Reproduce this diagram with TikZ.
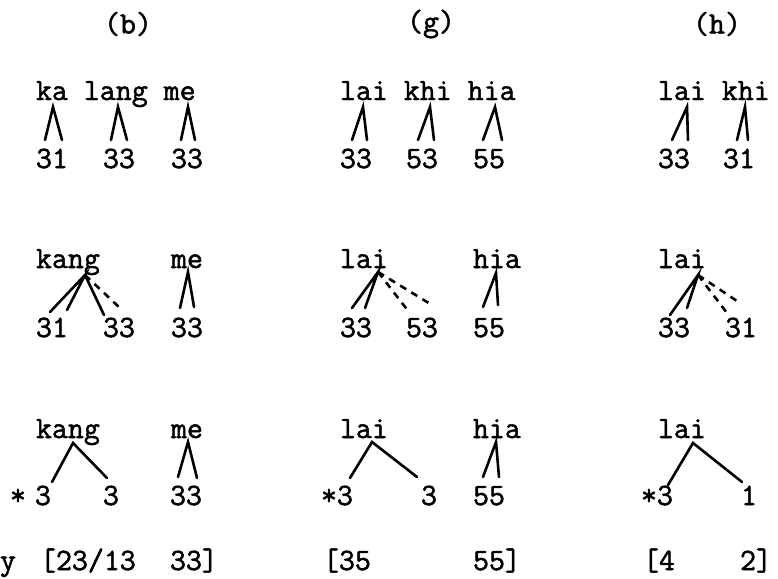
\documentclass[tikz,border=0pt]{standalone}
\usepackage{fontspec}
\newfontfamily\twfont{Latin Modern Mono}[FakeBold=1.6]
\newcommand\tyt{\fontsize{31}{31}\selectfont\twfont}
\tikzset{
  txt/.style={font=\tyt, anchor=base west, inner sep=0pt, outer sep=0pt},
  hdr/.style={font=\tyt, anchor=center, inner sep=0pt},
  leg/.style={line width=2.6pt, line cap=round},
  dleg/.style={line width=2.6pt, dash pattern=on 7pt off 6pt},
}
\newcommand\mylam[4]{%
  \coordinate (#1a) at (#2);
  \coordinate (#1l) at (#3);
  \coordinate (#1r) at (#4);
  \draw[leg] (#1l) -- (#1a) -- (#1r);}
\begin{document}
\begin{tikzpicture}[x=1pt,y=-1pt]
\useasboundingbox (0,0) rectangle (778,578);
% headers
\node[hdr] (hb) at (128,24) {(b)};
\node[hdr] (hg) at (431,24) {(g)};
\node[hdr] (hh) at (717,24) {(h)};
% ---- row 1
\node[txt] (b1w) at (36,100) {ka lang me};
\node[txt] (g1w) at (340,100) {lai khi hia};
\node[txt] (h1w) at (658,100) {lai khi};
\node[txt] (b1d1) at (36,168) {31};
\node[txt] (b1d2) at (103,168) {33};
\node[txt] (b1d3) at (171,168) {33};
\node[txt] (g1d1) at (340,168) {33};
\node[txt] (g1d2) at (406,168) {53};
\node[txt] (g1d3) at (473,168) {55};
\node[txt] (h1d1) at (658,168) {33};
\node[txt] (h1d2) at (723,168) {31};
\mylam{bA}{53,107}{45,140}{62,140}
\mylam{bB}{118,107}{111,140}{127,140}
\mylam{bC}{188,107}{181,140}{195,140}
\mylam{gA}{363,107}{352,140}{367,140}
\mylam{gB}{430,107}{418,140}{434,140}
\mylam{gC}{495,107}{483,140}{502,140}
\mylam{hA}{687,107}{672,140}{688,140}
\mylam{hB}{745,107}{737,140}{748,140}
% ---- row 2
\node[txt] (b2w1) at (36,268) {kang};
\node[txt] (b2w2) at (171,268) {me};
\node[txt] (g2w1) at (340,268) {lai};
\node[txt] (g2w2) at (473,268) {hia};
\node[txt] (h2w1) at (658,268) {lai};
\node[txt] (b2d1) at (36,337) {31};
\node[txt] (b2d2) at (103,337) {33};
\node[txt] (b2d3) at (171,337) {33};
\node[txt] (g2d1) at (340,337) {33};
\node[txt] (g2d2) at (406,337) {53};
\node[txt] (g2d3) at (473,337) {55};
\node[txt] (h2d1) at (658,337) {33};
\node[txt] (h2d2) at (725,337) {31};
% b row 2
\coordinate (b2a) at (85,275);
\coordinate (b2f1) at (50,312);
\coordinate (b2f2) at (67,310);
\coordinate (b2f3) at (104,315);
\coordinate (b2f4) at (120,308);
\draw[leg] (b2f1) -- (b2a) -- (b2f2);
\draw[leg] (b2a) -- (b2f3);
\draw[dleg] (b2a) -- (b2f4);
\mylam{bD}{188,272}{180,308}{194,307}
% g row 2
\coordinate (g2a) at (378,272);
\coordinate (g2f1) at (352,308);
\coordinate (g2f2) at (365,308);
\coordinate (g2f3) at (409,312);
\coordinate (g2f4) at (432,305);
\draw[leg] (g2f1) -- (g2a) -- (g2f2);
\draw[dleg] (g2a) -- (g2f3);
\draw[dleg] (g2a) -- (g2f4);
\mylam{gD}{496,273}{483,307}{498,305}
% h row 2
\coordinate (h2a) at (698,275);
\coordinate (h2f1) at (670,315);
\coordinate (h2f2) at (687,308);
\coordinate (h2f3) at (727,313);
\coordinate (h2f4) at (740,303);
\draw[leg] (h2f1) -- (h2a) -- (h2f2);
\draw[dleg] (h2a) -- (h2f3);
\draw[dleg] (h2a) -- (h2f4);
% ---- row 3
\node[txt] (b3w1) at (36,438) {kang};
\node[txt] (b3w2) at (171,438) {me};
\node[txt] (g3w1) at (340,438) {lai};
\node[txt] (g3w2) at (473,438) {hia};
\node[txt] (h3w1) at (658,438) {lai};
\node[txt] (b3s) at (10,505) {*};
\node[txt] (b3d1) at (35,505) {3};
\node[txt] (b3d2) at (103,505) {3};
\node[txt] (b3d3) at (170,505) {33};
\node[txt] (g3d1) at (321,505) {*3};
\node[txt] (g3d2) at (421,505) {3};
\node[txt] (g3d3) at (473,505) {55};
\node[txt] (h3d1) at (641,505) {*3};
\node[txt] (h3d2) at (741,505) {1};
\mylam{bE}{73,443}{52,482}{107,478}
\mylam{bF}{188,442}{178,477}{197,478}
\mylam{gE}{372,442}{350,478}{417,477}
\mylam{gF}{496,442}{483,477}{499,477}
\mylam{hE}{693,443}{668,485}{742,482}
% ---- bottom line
\node[txt] (by) at (0,570) {y};
\node[txt] (bb1) at (40,570) {[23/13};
\node[txt] (bb2) at (170,570) {33]};
\node[txt] (gb1) at (323,570) {[35};
\node[txt] (gb2) at (473,570) {55]};
\node[txt] (hb1) at (643,570) {[4};
\node[txt] (hb2) at (740,570) {2]};
\end{tikzpicture}
\end{document}
